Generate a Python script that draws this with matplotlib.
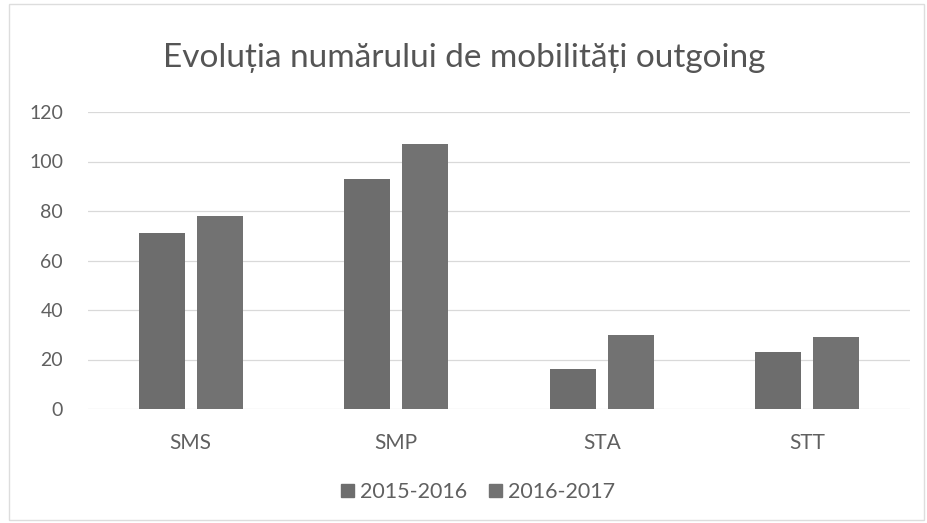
import matplotlib
matplotlib.use("Agg")
import matplotlib.pyplot as plt
from matplotlib.patches import Rectangle, Patch
import numpy as np

categories = ["SMS", "SMP", "STA", "STT"]
series_names = ["2015-2016", "2016-2017"]
values_2015 = [71, 93, 16, 23]
values_2016 = [78, 107, 30, 29]
yticks = [0, 20, 40, 60, 80, 100, 120]

plt.rcParams['font.family'] = ['Lato', 'DejaVu Sans']

fig = plt.figure(figsize=(9.28, 5.23), dpi=100)
ax = fig.add_axes([88/928, 1-409/523, (910-88)/928, (409-112)/523])

x = np.arange(len(categories))
w = 0.224
off = 0.141
c1 = "#6d6d6d"
c2 = "#727272"
ax.bar(x - off, values_2015, w, color=c1, zorder=3)
ax.bar(x + off, values_2016, w, color=c2, zorder=3)

ax.set_xlim(-0.5, len(categories) - 0.5)
ax.set_ylim(0, 120)
ax.set_yticks(yticks)
ax.set_yticklabels([str(t) for t in yticks], fontsize=14, color="#606060")
ax.set_xticks(x)
ax.set_xticklabels(categories, fontsize=15, color="#606060")
ax.tick_params(axis='both', length=0)
ax.tick_params(axis='y', pad=18)
ax.tick_params(axis='x', pad=17)
ax.grid(axis='y', color="#d9d9d9", linewidth=0.9, zorder=0)
for s in ax.spines.values():
    s.set_visible(False)

fig.text(464/928, 1-58/523, "Evoluția numărului de mobilități outgoing",
         ha='center', va='center', fontsize=24, color="#555555")

handles = [Patch(color=c1), Patch(color=c2)]
fig.legend(handles, series_names, loc='center', bbox_to_anchor=(478/928, 1-492/523),
           ncol=2, frameon=False, fontsize=15.5, labelcolor="#606060",
           handlelength=0.6, handleheight=0.6, handletextpad=0.3, columnspacing=1.0)

fig.patches.append(Rectangle((9/928, 3/523), 915/928, 516/523, transform=fig.transFigure,
                             fill=False, edgecolor="#dddddd", linewidth=1))

fig.savefig("out.png", dpi=100, facecolor="white")
